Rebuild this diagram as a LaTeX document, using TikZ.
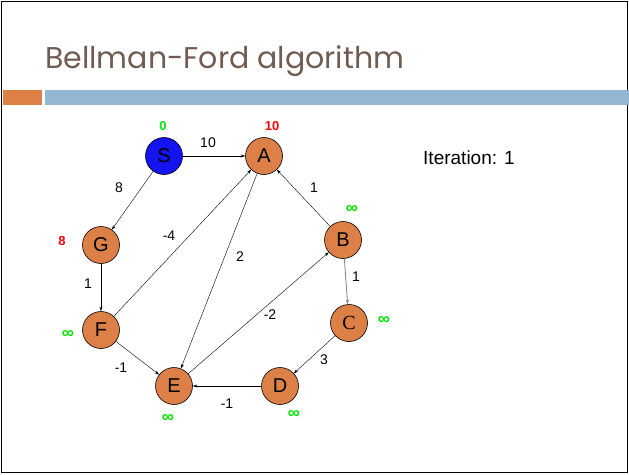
\documentclass[tikz,border=0pt]{standalone}
\usepackage{fontspec}
\setmainfont{Liberation Sans}
\newfontfamily\titlefont{Poppins}
\newfontfamily\serifletter{Liberation Serif}
\usetikzlibrary{arrows.meta}

\definecolor{nodeorange}{RGB}{220,128,72}
\definecolor{barblue}{RGB}{148,182,210}
\definecolor{titlebrown}{RGB}{112,92,82}
\definecolor{sourceblue}{RGB}{20,20,240}
\definecolor{distgreen}{RGB}{0,230,0}

\begin{document}
\begin{tikzpicture}[x=1pt,y=-1pt,>={Stealth[length=4.5pt,width=3pt]}]
\tikzstyle{vertex} = [shape = circle,draw = black,fill = nodeorange,minimum size = 37pt,inner sep=0pt,line width=0.6pt,font=\fontsize{20}{20}\selectfont]
\tikzstyle{edge} = [->,line width=0.4pt]
\tikzstyle{weight} = [font=\fontsize{14}{14}\selectfont,inner sep=0pt]
\tikzstyle{dist} = [font=\fontsize{13}{13}\selectfont\bfseries,inner sep=0pt]
\tikzstyle{infdist} = [dist,text=distgreen,font=\fontsize{17}{17}\selectfont\bfseries]

\useasboundingbox (0,0) rectangle (629,474);
\draw[line width=1.6pt] (1.5,1.5) rectangle (627.5,472.5);

% title and bars
\node[anchor=base west,text=titlebrown,inner sep=0pt,font=\titlefont\fontsize{30}{30}\selectfont] (title) at (45,68) {Bellman-Ford algorithm};
\fill[nodeorange] (3,90) rectangle (42,105);
\fill[barblue] (45,90) rectangle (629,105);

\node[anchor=west,inner sep=0pt,font=\fontsize{19}{19}\selectfont] (iter) at (423,158) {Iteration: 1};

% vertices
\node[vertex,fill=sourceblue] (S) at (164,156) {S};
\node[vertex] (A) at (264,156) {A};
\node[vertex] (G) at (101,245) {G};
\node[vertex] (F) at (101,330) {F};
\node[vertex] (E) at (174,386) {E};
\node[vertex] (D) at (280,386) {D};
\node[vertex] (C) at (349,323) {\serifletter C};
\node[vertex] (B) at (343,240) {B};

% edges
\draw[edge] (S) -- (A);
\draw[edge] (S) -- (G);
\draw[edge] (G) -- (F);
\draw[edge] (F) -- (A);
\draw[edge] (F) -- (E);
\draw[edge] (A) -- (E);
\draw[edge] (E) -- (B);
\draw[edge] (B) -- (A);
\draw[edge,draw=gray,line width=0.8pt] (B) -- (C);
\draw[edge] (C) -- (D);
\draw[edge] (D) -- (E);

% weights
\node[weight] (wSA) at (208,143) {10};
\node[weight] (wSG) at (119,188) {8};
\node[weight] (wFA) at (169,236) {-4};
\node[weight] (wAE) at (240,257) {2};
\node[weight] (wBA) at (314,188) {1};
\node[weight] (wBC) at (356,277) {1};
\node[weight] (wEB) at (270,315) {-2};
\node[weight] (wGF) at (88,284) {1};
\node[weight] (wCD) at (324,360) {3};
\node[weight] (wFE) at (121,368) {-1};
\node[weight] (wDE) at (227,404) {-1};

% distances
\node[dist,text=distgreen] (dS) at (163,126) {0};
\node[dist,text=red] (dA) at (272,126) {10};
\node[dist,text=red] (dG) at (62,241) {8};
\node[infdist] (dB) at (352,209) {∞};
\node[infdist] (dC) at (384,320) {∞};
\node[infdist] (dF) at (68,334) {∞};
\node[infdist] (dE) at (168,418) {∞};
\node[infdist] (dD) at (294,414) {∞};

\end{tikzpicture}
\end{document}
